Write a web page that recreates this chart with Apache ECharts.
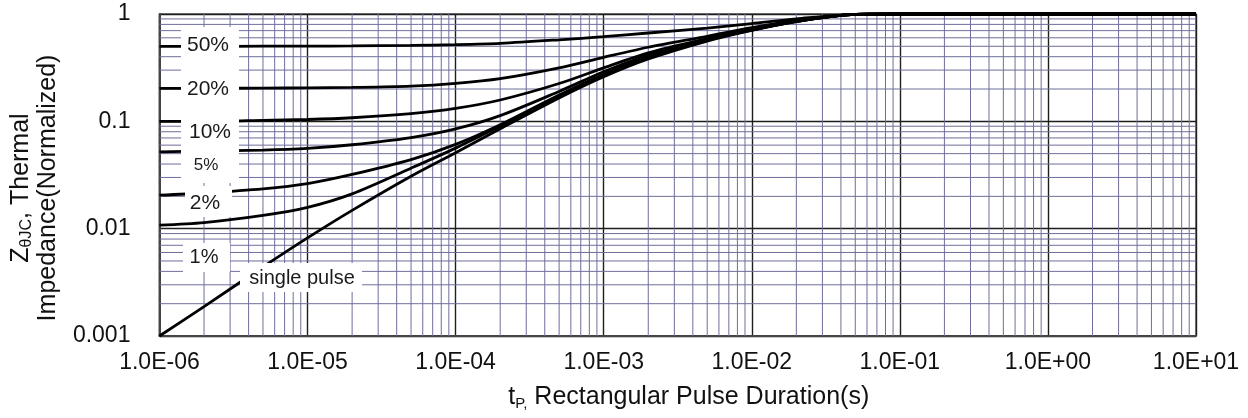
<!DOCTYPE html>
<html>
<head>
<meta charset="utf-8">
<script src="https://cdn.jsdelivr.net/npm/echarts@6/dist/echarts.min.js"></script>
<style>
html,body{margin:0;padding:0;background:#ffffff;}
#chart{width:1248px;height:418px;}
</style>
</head>
<body>
<div id="chart"></div>
<script>
// ---- data ----
const pulseTimes = [1e-6, 2e-6, 5e-6, 1e-5, 2e-5, 5e-5, 1e-4, 2e-4, 5e-4, 1e-3, 2e-3, 5e-3, 1e-2, 2e-2, 5e-2, 1e-1, 1e1];
const duty50 = [0.5, 0.5, 0.501, 0.502, 0.504, 0.51, 0.518, 0.533, 0.575, 0.615, 0.665, 0.74, 0.815, 0.9, 0.993, 1, 1];
const duty20 = [0.203, 0.203, 0.204, 0.205, 0.207, 0.213, 0.226, 0.25, 0.315, 0.395, 0.49, 0.62, 0.745, 0.87, 0.992, 1, 1];
const duty10 = [0.1, 0.1, 0.102, 0.104, 0.108, 0.118, 0.132, 0.158, 0.225, 0.315, 0.435, 0.59, 0.725, 0.86, 0.992, 1, 1];
const duty5 = [0.052, 0.053, 0.054, 0.056, 0.0605, 0.0705, 0.085, 0.113, 0.19, 0.29, 0.415, 0.58, 0.717, 0.855, 0.992, 1, 1];
const duty2 = [0.0205, 0.0215, 0.0235, 0.0263, 0.032, 0.044, 0.061, 0.093, 0.176, 0.275, 0.397, 0.573, 0.712, 0.853, 0.991, 1, 1];
const duty1 = [0.0108, 0.0114, 0.0133, 0.0158, 0.0211, 0.0366, 0.0563, 0.0902, 0.17, 0.2665, 0.389, 0.569, 0.708, 0.851, 0.991, 1, 1];
const singlePulse = [0.001, 0.00188, 0.0044, 0.0082, 0.0148, 0.0308, 0.051, 0.0852, 0.165, 0.26, 0.381, 0.56, 0.704, 0.849, 0.99, 1, 1];
const seriesNames = ['50%', '20%', '10%', '5%', '2%', '1%', 'single pulse'];
const xTickLabels = ['1.0E-06', '1.0E-05', '1.0E-04', '1.0E-03', '1.0E-02', '1.0E-01', '1.0E+00', '1.0E+01'];
const yTickLabels = ['0.001', '0.01', '0.1', '1'];
const xDecadeExponents = [-6, -5, -4, -3, -2, -1, 0];
const yDecadeExponents = [-3, -2, -1];
const minorMultipliers = [2, 3, 4, 5, 6, 7, 8, 9];

// ---- build ----
const FONT = "'Liberation Sans', Arial, Helvetica, sans-serif";
const allValues = [duty50, duty20, duty10, duty5, duty2, duty1, singlePulse];
const X_MIN = 1e-6, X_MAX = 10, Y_MIN = 0.001, Y_MAX = 1;

const xMinor = [];
xDecadeExponents.forEach(e => minorMultipliers.forEach(m => xMinor.push(m * Math.pow(10, e))));
const yMinor = [];
yDecadeExponents.forEach(e => minorMultipliers.forEach(m => yMinor.push(m * Math.pow(10, e))));

const minorColor = '#6e6e9c';
const majorColor = '#1e1e1e';

// minor grid lines drawn as broken polylines through the axes' scales
const vGridData = [];
xMinor.forEach(v => { vGridData.push([v, Y_MIN], [v, Y_MAX], ['-', '-']); });
const hGridData = [];
yMinor.forEach(v => { hGridData.push([X_MIN, v], [X_MAX, v], ['-', '-']); });

const gridLineSeries = (name, data) => ({
  name: name, type: 'line', data: data,
  showSymbol: false, symbol: 'none', connectNulls: false,
  z: 1, silent: true, animation: false,
  lineStyle: { color: minorColor, width: 1 },
  emphasis: { disabled: true }
});

const curveSeries = allValues.map((vals, i) => ({
  name: seriesNames[i],
  type: 'line',
  data: pulseTimes.map((t, j) => [t, vals[j]]),
  showSymbol: false,
  symbol: 'none',
  smooth: 0.3,
  clip: false,
  z: 5,
  lineStyle: { color: '#000000', width: 2.8 },
  silent: true,
  animation: false,
  emphasis: { disabled: true }
}));

const chart = echarts.init(document.getElementById('chart'), null, { renderer: 'canvas' });

const labelText = (txt, x, y, size) => ({
  type: 'text', x: x, y: y, z: 101, silent: true,
  style: { text: txt, fill: '#1a1a1a', font: size + 'px ' + FONT, align: 'center', verticalAlign: 'middle' }
});
const whiteRect = (x, y, w, h) => ({
  type: 'rect', z: 100, silent: true,
  shape: { x: x, y: y, width: w, height: h },
  style: { fill: '#ffffff' }
});

chart.setOption({
  backgroundColor: '#ffffff',
  animation: false,
  grid: {
    left: 147, right: 52, top: 14, bottom: 82,
    show: true, borderColor: '#555555', borderWidth: 1.5, backgroundColor: 'transparent'
  },
  xAxis: {
    type: 'log',
    logBase: 10,
    min: X_MIN,
    max: X_MAX,
    name: '{t|t}{s|P,}{n| Rectangular Pulse Duration(s)}',
    nameLocation: 'middle',
    nameGap: 48,
    nameTextStyle: {
      color: '#111',
      fontFamily: FONT,
      fontSize: 25,
      padding: [0, 0, 0, 22],
      rich: {
        t: { fontSize: 25, fontFamily: FONT, color: '#111' },
        s: { fontSize: 15, fontFamily: FONT, color: '#111', padding: [12, 0, 0, 0] },
        n: { fontSize: 25, fontFamily: FONT, color: '#111' }
      }
    },
    axisLine: { show: true, lineStyle: { color: '#444', width: 2 } },
    axisTick: { show: false },
    axisLabel: {
      color: '#111', fontFamily: FONT, fontSize: 23, margin: 15,
      showMinLabel: true, showMaxLabel: true,
      formatter: v => xTickLabels[Math.round(Math.log10(v)) + 6]
    },
    splitLine: { show: true, lineStyle: { color: majorColor, width: 1.4 } },
    minorTick: { show: false },
    minorSplitLine: { show: false }
  },
  yAxis: {
    type: 'log',
    logBase: 10,
    min: Y_MIN,
    max: Y_MAX,
    name: '{z|Z}{sub|θJC}{z|, Thermal}\n{z|Impedance(Normalized)}',
    nameLocation: 'middle',
    nameRotate: 90,
    nameGap: 87,
    nameTextStyle: {
      color: '#111',
      fontFamily: FONT,
      fontSize: 25,
      lineHeight: 27,
      padding: [0, 26, 0, 0],
      rich: {
        z: { fontSize: 25, fontFamily: FONT, color: '#111', lineHeight: 27 },
        sub: { fontSize: 16, fontFamily: FONT, color: '#111', padding: [10, 0, 0, 0] }
      }
    },
    axisLine: { show: true, lineStyle: { color: '#444', width: 2 } },
    axisTick: { show: false },
    axisLabel: {
      color: '#111', fontFamily: FONT, fontSize: 23, margin: 29,
      showMinLabel: true, showMaxLabel: true,
      formatter: v => yTickLabels[Math.round(Math.log10(v)) + 3]
    },
    splitLine: { show: true, lineStyle: { color: majorColor, width: 1.4 } },
    minorTick: { show: false },
    minorSplitLine: { show: false }
  },
  series: [gridLineSeries('v-grid', vGridData), gridLineSeries('h-grid', hGridData), ...curveSeries],
  graphic: [
    whiteRect(181, 27, 58, 156),
    whiteRect(185, 186, 47, 31),
    whiteRect(183, 243, 47, 29),
    whiteRect(240, 263, 122, 29),
    labelText(seriesNames[0], 208, 45, 21),
    labelText(seriesNames[1], 208, 89, 21),
    labelText(seriesNames[2], 210, 132, 21),
    labelText(seriesNames[3], 206, 165, 17),
    labelText(seriesNames[4], 205, 203, 21),
    labelText(seriesNames[5], 204, 257, 20),
    labelText(seriesNames[6], 302, 278, 20)
  ]
});
</script>
</body>
</html>
